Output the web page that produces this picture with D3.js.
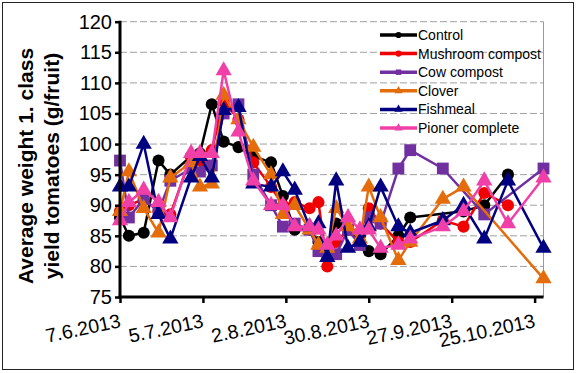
<!DOCTYPE html>
<html>
<head>
<meta charset="utf-8">
<script src="https://cdn.jsdelivr.net/npm/d3@7"></script>
<style>
  body { margin: 0; background: #fff; }
  svg { display: block; font-family: "Liberation Sans", Arial, sans-serif; }
</style>
</head>
<body>
<div id="chart"></div>
<script>
// sampling dates (day.month.2013)
const dates = ["7.6", "10.6", "15.6", "20.6", "24.6", "1.7", "4.7", "8.7", "12.7", "17.7",
  "22.7", "28.7", "1.8", "5.8", "10.8", "13.8", "16.8", "19.8", "23.8", "27.8",
  "30.8", "3.9", "9.9", "13.9", "24.9", "1.10", "8.10", "16.10", "28.10"];

const control  = [88, 85, 85.5, 97.3, 95, 98, 98.5, 106.5, 100.4, 99.5, 98, 97, 91.5, 86, 86, 84, 83.5, 87, 86, 85, 82.5, 82, 85, 88, null, 89, 90, 95, null];
const mushroom = [89, 90, 91, 89, 88.5, 98, 97, 99, 107, 104, 97, 93, 90, 90.5, 89.5, 90.5, 80, 84, 86, 85.5, 89.5, 87, 84, 84, 87.5, 86.5, 92, 90, null];
const cow      = [97.3, 88, 91, 89, 94, 96, 95.5, 96.5, 105, 106.5, 95, 90, 86.5, 87, 86, 82.5, 82, 82, 86, 83.5, 88, 87, 96, 99, 96, null, 88.5, null, 96];
const clover   = [89, 95.5, 89.5, 85.5, 94.5, 97, 93, 93.5, 108, 104, 99.5, 95, 88.5, 90, 86, 83.5, 83, 89.5, 86.5, 84.5, 93, 88, 81, 84, 91, 93, null, null, 78];
const fishmeal = [93, 93, 100, 88.5, 84.5, 94.5, 98, 94.5, 105.5, 106, 93.5, 93, 95.5, 92.5, 86.5, 87, 81.5, 94, 83, 84, 86.5, 93, 86.5, 85.5, 87.5, 90, 84.5, 94, 83];
const pioner   = [87.5, 90.5, 92.5, 90.5, 88, 98.5, 98.5, 98.5, 112, 102, 94, 90, 90, 86.5, 86.5, 86, 83.5, 85, 88, 86, 86, 83, 83.5, 84.5, 86.5, 89, 94, 87, 94.5];

const seriesNames = ["Control", "Mushroom compost", "Cow compost", "Clover", "Fishmeal", "Pioner complete"];
const seriesValues = [control, mushroom, cow, clover, fishmeal, pioner];
const colors = ["#000000", "#f00000", "#7030a0", "#e46c0a", "#000080", "#f040a8"];
const shapes = ["circle", "circle", "square", "triangle", "triangle", "triangle"];

const yTicks = [75, 80, 85, 90, 95, 100, 105, 110, 115, 120];
const xTicks = ["7.6", "5.7", "2.8", "30.8", "27.9", "25.10"];

const width = 577, height = 373;
const margin = { top: 21.7, right: 33.5, bottom: 76, left: 120 };

const parse = s => { const [d, m] = s.split(".").map(Number); return new Date(2013, m - 1, d); };

const svg = d3.select("#chart").append("svg")
    .attr("width", width)
    .attr("height", height);

// outer chart border
svg.append("rect").attr("x", 2.5).attr("y", 2.5).attr("width", 571).attr("height", 367)
    .attr("fill", "#fff").attr("stroke", "#222").attr("stroke-width", 1);

const x = d3.scaleTime()
    .domain([parse(dates[0]), parse(dates[dates.length - 1])])
    .range([margin.left, width - margin.right]);
const y = d3.scaleLinear()
    .domain([75, 120])
    .range([height - margin.bottom, margin.top]);

// gridlines
svg.append("g").selectAll("line")
    .data(yTicks.slice(1)).enter().append("line")
    .attr("x1", margin.left).attr("x2", width - margin.right)
    .attr("y1", d => y(d)).attr("y2", d => y(d))
    .attr("stroke", "#a0a0a0").attr("stroke-width", 1).attr("stroke-dasharray", "7,3");

// right plot border
svg.append("line")
    .attr("x1", width - margin.right).attr("x2", width - margin.right)
    .attr("y1", margin.top).attr("y2", height - margin.bottom)
    .attr("stroke", "#999").attr("stroke-width", 1);

// series
const sym = {
  circle: d3.symbol().type(d3.symbolCircle).size(115),
  square: d3.symbol().type(d3.symbolSquare).size(140),
  triangle: d3.symbol().type(d3.symbolTriangle).size(115)
};

seriesValues.forEach((vals, i) => {
  const pts = dates.map((d, j) => ({ date: parse(d), v: vals[j] })).filter(p => p.v != null);
  const line = d3.line().x(p => x(p.date)).y(p => y(p.v));
  svg.append("path").datum(pts)
      .attr("d", line).attr("fill", "none")
      .attr("stroke", colors[i]).attr("stroke-width", 2.5).attr("stroke-linejoin", "round");
  svg.append("g").selectAll("path")
      .data(pts).enter().append("path")
      .attr("transform", p => `translate(${x(p.date)},${y(p.v)})`)
      .attr("d", sym[shapes[i]])
      .attr("fill", colors[i]);
});

// y axis
const yAxis = svg.append("g")
    .attr("transform", `translate(${margin.left},0)`)
    .call(d3.axisLeft(y).tickValues(yTicks).tickSize(5).tickPadding(3));
yAxis.select(".domain").attr("stroke-width", 3).attr("d", `M0,${y(120) - 1}V${y(75) + 1.5}`);
yAxis.selectAll(".tick line").attr("stroke-width", 2.5);
yAxis.selectAll("text").style("font-size", "20px").attr("fill", "#000").attr("font-family", "Liberation Sans, Arial");

// x axis
const xAxis = svg.append("g")
    .attr("transform", `translate(0,${height - margin.bottom})`)
    .call(d3.axisBottom(x).tickValues(xTicks.map(parse)).tickSize(6).tickFormat(d3.timeFormat("%-d.%-m.%Y")));
xAxis.select(".domain").attr("stroke-width", 3).attr("d", `M${margin.left - 1.5},0H${width - margin.right}`);
xAxis.selectAll(".tick line").attr("stroke-width", 2.5);
xAxis.selectAll("text")
    .style("font-size", "19.5px").attr("fill", "#000").attr("font-family", "Liberation Sans, Arial")
    .attr("text-anchor", "end")
    .attr("dy", null)
    .attr("y", null)
    .attr("transform", "translate(1,30) rotate(-12)");

// y axis title
const title = svg.append("text")
    .attr("transform", `translate(0,166) rotate(-90)`)
    .attr("text-anchor", "middle")
    .style("font-size", "21px").style("font-weight", "bold").attr("fill", "#000");
title.append("tspan").attr("x", 0).attr("y", 33).text("Average weight 1. class");
title.append("tspan").attr("x", 0).attr("y", 59).text("yield tomatoes (g/fruit)");

// legend
const legend = svg.append("g").attr("transform", "translate(380,35)");
seriesNames.forEach((name, i) => {
  const row = legend.append("g").attr("transform", `translate(0,${i * 18.6})`);
  row.append("line").attr("x1", 0).attr("x2", 37).attr("y1", 0).attr("y2", 0)
      .attr("stroke", colors[i]).attr("stroke-width", 3.5);
  row.append("path").attr("transform", "translate(18.5,0)")
      .attr("d", d3.symbol().type(shapes[i] === "circle" ? d3.symbolCircle : shapes[i] === "square" ? d3.symbolSquare : d3.symbolTriangle).size(30))
      .attr("fill", colors[i]);
  row.append("text").attr("x", 38).attr("y", 5)
      .style("font-size", "14px").attr("fill", "#000")
      .text(name);
});
</script>
</body>
</html>
